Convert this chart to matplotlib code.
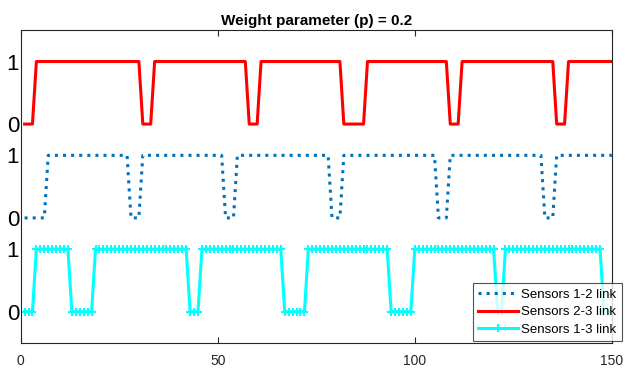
import numpy as np
import matplotlib
matplotlib.use("Agg")
import matplotlib.pyplot as plt

plt.rcParams["font.family"] = ["Liberation Sans", "DejaVu Sans"]

# Link state (1 = up, 0 = down) for time steps 1..150
t = np.arange(1, 151)

# low intervals (inclusive)
low_12 = [(1, 6), (28, 30), (52, 54), (79, 81), (106, 108), (133, 135)]
low_23 = [(1, 3), (31, 33), (58, 60), (82, 87), (109, 111), (136, 138)]
low_13 = [(1, 3), (13, 18), (43, 45), (67, 72), (94, 99), (121, 122), (148, 150)]

offsets = {"12": 1.5, "23": 3.0, "13": 0.0}
ytick_pos = [0, 1, 1.5, 2.5, 3, 4]
ytick_lab = ["0", "1", "0", "1", "0", "1"]
xtick_pos = [0, 50, 100, 150]


def link_state(lows):
    s = np.ones(len(t))
    for a, b in lows:
        s[(t >= a) & (t <= b)] = 0
    return s


s12 = link_state(low_12)
s23 = link_state(low_23)
s13 = link_state(low_13)

fig = plt.figure(figsize=(6.25, 3.71), dpi=100)
ax = fig.add_axes([0.033, 0.0755, 0.946, 0.843])

ax.plot(t, s12 + offsets["12"], ":", color=(0, 0.447, 0.741), lw=2.2,
        label="Sensors 1-2 link")
ax.plot(t, s23 + offsets["23"], "-", color="red", lw=2.2,
        label="Sensors 2-3 link")
ax.plot(t, s13 + offsets["13"], "-", color="cyan", lw=2.2, marker="+",
        ms=6, mew=1.5, label="Sensors 1-3 link")

ax.set_xlim(0, 150)
ax.set_ylim(-0.5, 4.5)
ax.set_xticks(xtick_pos)
ax.set_yticks(ytick_pos)
ax.set_yticklabels(ytick_lab, fontsize=16)
ax.tick_params(axis="x", direction="in", top=True, labelsize=10,
               pad=8, color="0.15", labelcolor="0.15", length=4)
ax.tick_params(axis="y", length=0, pad=1)
for sp in ax.spines.values():
    sp.set_color("0.15")
    sp.set_linewidth(0.8)

ax.set_title("Weight parameter (p) = 0.2", fontsize=11, fontweight="bold",
             pad=4)

leg = ax.legend(loc="lower right", bbox_to_anchor=(0.995, 0.081),
                bbox_transform=fig.transFigure, fontsize=9.5, frameon=True,
                fancybox=False, edgecolor="0.15", borderpad=0.4,
                labelspacing=0.4, handlelength=3.0, handletextpad=0.3,
                borderaxespad=0)
leg.get_frame().set_linewidth(0.8)

fig.savefig("out.png", dpi=100)
